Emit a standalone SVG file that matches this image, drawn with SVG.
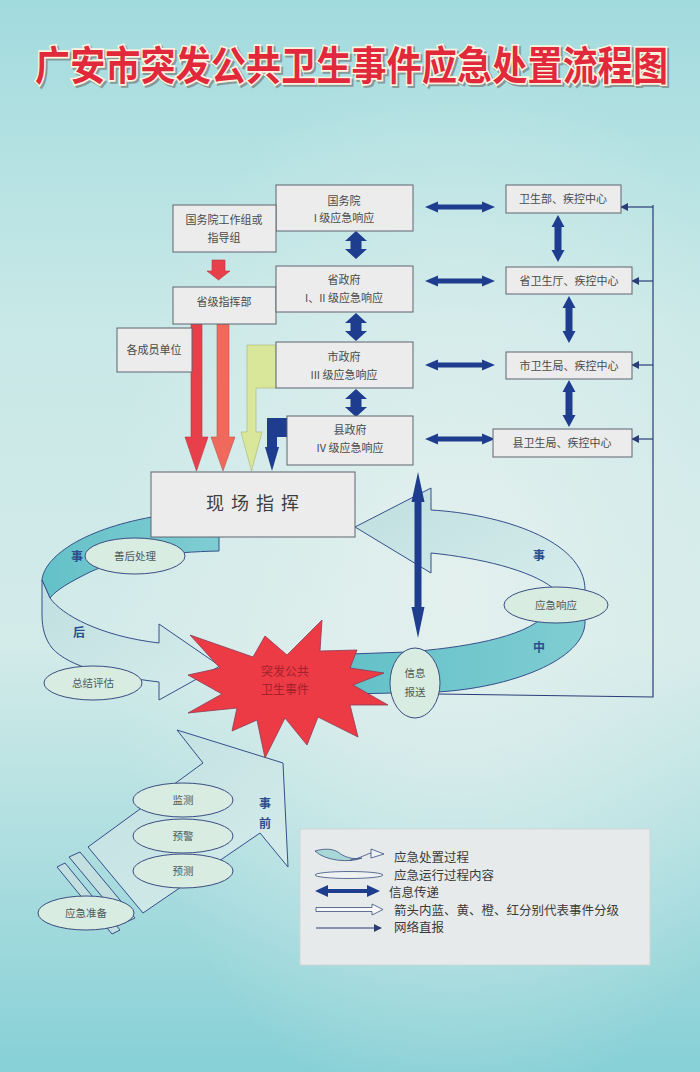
<svg xmlns="http://www.w3.org/2000/svg" width="700" height="1072" viewBox="0 0 700 1072">
<defs>
<linearGradient id="bg" x1="0" y1="0" x2="0" y2="1">
<stop offset="0" stop-color="#a2dbde"/>
<stop offset="0.3" stop-color="#c8e8e7"/>
<stop offset="0.6" stop-color="#d3ebe9"/>
<stop offset="1" stop-color="#86d0d6"/>
</linearGradient>
<radialGradient id="hl" cx="0.65" cy="0.55" r="0.5">
<stop offset="0" stop-color="#e6f1ef" stop-opacity="0.85"/>
<stop offset="1" stop-color="#e6f1ef" stop-opacity="0"/>
</radialGradient>
<linearGradient id="light" x1="0" y1="0" x2="1" y2="1">
<stop offset="0" stop-color="#c0dfe0"/>
<stop offset="1" stop-color="#d6ecec"/>
</linearGradient>
<linearGradient id="teal" x1="0" y1="0" x2="1" y2="0">
<stop offset="0" stop-color="#64c1c8"/>
<stop offset="1" stop-color="#7fcdd2"/>
</linearGradient>
<marker id="net" viewBox="0 0 10 10" refX="9" refY="5" markerWidth="8" markerHeight="8" markerUnits="userSpaceOnUse" orient="auto">
<path d="M0,0 L10,5 L0,10 Z" fill="#2a3d78"/>
</marker>
<path id="harrow" d="M0,0 L13,-5.5 L13,-2.5 L57,-2.5 L57,-5.5 L70,0 L57,5.5 L57,2.5 L13,2.5 L13,5.5 Z"/>
<path id="varrowL" d="M0,0 L11,10 L5.5,10 L5.5,18 L11,18 L0,28 L-11,18 L-5.5,18 L-5.5,10 L-11,10 Z"/>
<path id="varrowR" d="M0,0 L6.5,12 L3.5,12 L3.5,35 L6.5,35 L0,47 L-6.5,35 L-3.5,35 L-3.5,12 L-6.5,12 Z"/>
<style>
.box{fill:#ebeceb;stroke:#5e6470;stroke-width:1}
.bt{font-family:'Noto Sans CJK SC','Noto Sans CJK TC',sans-serif;font-size:11px;fill:#4a4a4a;text-anchor:middle}
.el{fill:#d8ece2;stroke:#3a4d80;stroke-width:1}
.et{font-family:'Noto Sans CJK SC',sans-serif;font-size:10.5px;fill:#4e5a5a;text-anchor:middle}
.lab{font-family:'Noto Sans CJK SC',sans-serif;font-size:12px;font-weight:bold;fill:#2c4e8c;text-anchor:middle}
.blue{fill:#1f3d8e}
.ring{stroke:#34508a;stroke-width:1}
.lt{font-family:'Noto Sans CJK SC',sans-serif;font-size:12.5px;fill:#3a3a3a}
.netl{fill:none;stroke:#2a3d78;stroke-width:1.2}
.ttl{font-family:'Noto Sans CJK SC',sans-serif;font-size:35px;font-weight:bold}
</style>
</defs>
<rect width="700" height="1072" fill="url(#bg)"/>
<rect width="700" height="1072" fill="url(#hl)"/>

<g id="title">
<text class="ttl" transform="translate(37,82) scale(1,1.14)" x="0" y="0" textLength="633" lengthAdjust="spacing" fill="#6d6d6d" stroke="#6d6d6d" stroke-width="3" opacity="0.6">广安市突发公共卫生事件应急处置流程图</text>
<text class="ttl" transform="translate(35,80) scale(1,1.14)" x="0" y="0" textLength="633" lengthAdjust="spacing" fill="#e2283b" stroke="#fbf3e0" stroke-width="3" paint-order="stroke">广安市突发公共卫生事件应急处置流程图</text>
</g>

<g id="connectors">
<polyline class="netl" points="437,694 653,697 653,205"/>
<line class="netl" x1="653" y1="207" x2="621" y2="207" marker-end="url(#net)"/>
<line class="netl" x1="653" y1="281" x2="632" y2="281" marker-end="url(#net)"/>
<line class="netl" x1="653" y1="365" x2="632" y2="365" marker-end="url(#net)"/>
<line class="netl" x1="653" y1="439" x2="632" y2="439" marker-end="url(#net)"/>
<use href="#harrow" class="blue" x="425" y="207"/>
<use href="#harrow" class="blue" x="425" y="281"/>
<use href="#harrow" class="blue" x="425" y="365"/>
<use href="#harrow" class="blue" x="425" y="439"/>
<use href="#varrowL" class="blue" x="356" y="231"/>
<use href="#varrowL" class="blue" x="356" y="313"/>
<use href="#varrowL" class="blue" x="356" y="389"/>
<use href="#varrowR" class="blue" x="558" y="215"/>
<use href="#varrowR" class="blue" x="569" y="296"/>
<use href="#varrowR" class="blue" x="569" y="380"/>
<path d="M212,260 H225 V271 H230 L218.5,280 L207,271 H212 Z" fill="#e8404b" stroke="#b93444" stroke-width="0.6"/>
<path d="M191,324 H202 V437 H208 L196.5,471 L185,437 H191 Z" fill="#e8404b" stroke="#b93444" stroke-width="0.6"/>
<path d="M217,324 H229 V437 H235 L223,471 L211,437 H217 Z" fill="#ef6a5c" stroke="#c2504a" stroke-width="0.6"/>
<path d="M247,345 H276 V388 H256 V432 H262 L251.5,471 L241,432 H247 Z" fill="#d9e79b" stroke="#a9b46d" stroke-width="0.6"/>
<path d="M267,418 H287 V437 H277 V447 H279 L272,471 L265,447 H267 Z" class="blue"/>
</g>

<g id="cycle">
<path class="ring" fill="url(#teal)" d="M219,510 L219,551 C170,552 120,558 90,572 C70,582 56,590 50,598 L42,580 C44,558 80,530 152,517 L152,510 Z"/>
<path class="ring" fill="url(#light)" d="M42,580 L50,598 C62,615 100,636 159,643 L159,624 L220,666 L159,700 L159,682 C110,676 70,668 52,648 C45,639 42,628 42,615 Z"/>
<path class="ring" fill="url(#light)" d="M355,527 L431,488 L431,510 C500,514 585,540 585,590 L585,600 L553,600 L553,588 C530,570 480,558 431,553 L431,573 Z"/>
<path class="ring" fill="url(#teal)" d="M585,605 L585,622 C585,660 510,688 437,692 L350,694 L350,654 L407,652 C460,648 525,638 545,615 Z"/>
<text class="lab" x="77" y="561">事</text>
<text class="lab" x="79" y="637">后</text>
<text class="lab" x="539" y="560">事</text>
<text class="lab" x="539" y="652">中</text>
</g>

<g id="pre-arrow">
<path class="ring" fill="#c3dfe0" d="M57,867 L65,863 L120,930 L112,934 Z"/>
<path class="ring" fill="#c3dfe0" d="M69,857 L80,852 L135,918 L124,923 Z"/>
<path class="ring" fill="url(#light)" d="M88,847 L203,763 L177,730 L283,763 L288,867 L260,833 L143,913 Z"/>
<text class="lab" x="265" y="808">事</text>
<text class="lab" x="265" y="828">前</text>
</g>

<g id="n-guowuyuan"><rect class="box" x="276" y="185" width="137" height="46"/><text class="bt" x="344" y="205">国务院</text><text class="bt" x="344" y="222">I 级应急响应</text></g>
<g id="n-gzz"><rect class="box" x="173" y="205" width="103" height="47"/><text class="bt" x="224" y="224">国务院工作组或</text><text class="bt" x="224" y="242">指导组</text></g>
<g id="n-sjzhb"><rect class="box" x="173" y="287" width="103" height="37"/><text class="bt" x="224" y="306">省级指挥部</text></g>
<g id="n-szf"><rect class="box" x="276" y="266" width="137" height="46"/><text class="bt" x="344" y="284">省政府</text><text class="bt" x="344" y="302">I、II 级应急响应</text></g>
<g id="n-gcydw"><rect class="box" x="117" y="328" width="75" height="44"/><text class="bt" x="154" y="354">各成员单位</text></g>
<g id="n-shizf"><rect class="box" x="276" y="342" width="137" height="46"/><text class="bt" x="344" y="361">市政府</text><text class="bt" x="344" y="379">III 级应急响应</text></g>
<g id="n-xzf"><rect class="box" x="287" y="416" width="126" height="49"/><text class="bt" x="350" y="434">县政府</text><text class="bt" x="350" y="452">IV 级应急响应</text></g>

<g id="n-wsb"><rect class="box" x="506" y="185" width="115" height="28"/><text class="bt" x="563" y="203">卫生部、疾控中心</text></g>
<g id="n-swst"><rect class="box" x="506" y="267" width="126" height="27"/><text class="bt" x="569" y="284.5">省卫生厅、疾控中心</text></g>
<g id="n-swsj"><rect class="box" x="506" y="352" width="126" height="27"/><text class="bt" x="569" y="369.5">市卫生局、疾控中心</text></g>
<g id="n-xwsj"><rect class="box" x="493" y="429" width="139" height="28"/><text class="bt" x="562" y="447">县卫生局、疾控中心</text></g>

<g id="n-xczh"><rect class="box" x="151" y="472" width="204" height="65"/><text x="256" y="510" font-family="'Noto Sans CJK SC',sans-serif" font-size="18" fill="#3e3e3e" text-anchor="middle" letter-spacing="7">现场指挥</text></g>

<g id="info-arrow"><path class="blue" d="M418,472 L424.5,502 L421.5,502 L421.5,607 L424.5,607 L418,638 L411.5,607 L414.5,607 L414.5,502 L411.5,502 Z"/></g>

<g id="n-shcl"><ellipse class="el" cx="135" cy="556" rx="50" ry="18"/><text class="et" x="135" y="560">善后处理</text></g>
<g id="n-zjpg"><ellipse class="el" cx="93" cy="683" rx="49" ry="17"/><text class="et" x="93" y="687">总结评估</text></g>
<g id="n-yjxy"><ellipse class="el" cx="556" cy="605" rx="52" ry="18"/><text class="et" x="556" y="609">应急响应</text></g>
<g id="n-xxbs"><ellipse class="el" cx="415" cy="683" rx="25" ry="35"/><text class="et" x="415" y="677">信息</text><text class="et" x="415" y="696">报送</text></g>

<g id="n-event">
<polygon fill="#ec3b45" stroke="#8a3a55" stroke-width="0.8" points="188,675 220,668 190,635 253,657 265,636 287,655 322,620 320,651 357,650 350,668 384,673 353,685 388,705 350,705 358,737 318,717 307,745 285,718 265,758 257,720 232,731 237,708 188,713 222,694"/>
<text x="285" y="676" font-family="'Noto Sans CJK SC',sans-serif" font-size="12" fill="#a3202c" text-anchor="middle">突发公共</text>
<text x="285" y="694" font-family="'Noto Sans CJK SC',sans-serif" font-size="12" fill="#a3202c" text-anchor="middle">卫生事件</text>
</g>

<g id="n-jc"><ellipse class="el" cx="183" cy="800" rx="50" ry="17"/><text class="et" x="183" y="804">监测</text></g>
<g id="n-yj"><ellipse class="el" cx="183" cy="836" rx="50" ry="17"/><text class="et" x="183" y="840">预警</text></g>
<g id="n-yc"><ellipse class="el" cx="183" cy="871" rx="50" ry="17"/><text class="et" x="183" y="875">预测</text></g>
<g id="n-yjzb"><ellipse class="el" cx="86" cy="913" rx="48" ry="17"/><text class="et" x="86" y="917">应急准备</text></g>

<g id="legend">
<rect x="300" y="829" width="350" height="136" fill="#e6eaea" stroke="#cfd6d6" stroke-width="1"/>
<path d="M315,851 C325,848 333,849 338,852 C344,857 353,860 362,858 C350,863 325,861 315,851 Z" fill="#a9d7d8" stroke="#3a4d80" stroke-width="0.8"/>
<path d="M350,860 C360,859 367,853 375,852" fill="none" stroke="#3a4d80" stroke-width="0.8"/>
<path d="M371,849 L384,854 L371,858 Z" fill="#eef3f3" stroke="#3a4d80" stroke-width="0.8"/>
<text class="lt" x="394" y="862">应急处置过程</text>
<ellipse cx="349" cy="875" rx="34" ry="3.5" fill="#eef2f2" stroke="#3a4d80" stroke-width="0.8"/>
<text class="lt" x="394" y="880">应急运行过程内容</text>
<path class="blue" d="M315,891 L328,885 L328,889 L367,889 L367,885 L380,891 L367,897 L367,893 L328,893 L328,897 Z"/>
<text class="lt" x="389" y="897">信息传递</text>
<path d="M316,907.5 H372 V904 L383,909.5 L372,915 V911.5 H316 Z" fill="#f6f8f8" stroke="#3a4d80" stroke-width="0.8"/>
<text class="lt" x="394" y="915">箭头内蓝、黄、橙、红分别代表事件分级</text>
<line class="netl" x1="316" y1="928" x2="381" y2="928" marker-end="url(#net)"/>
<text class="lt" x="394" y="932">网络直报</text>
</g>
</svg>
